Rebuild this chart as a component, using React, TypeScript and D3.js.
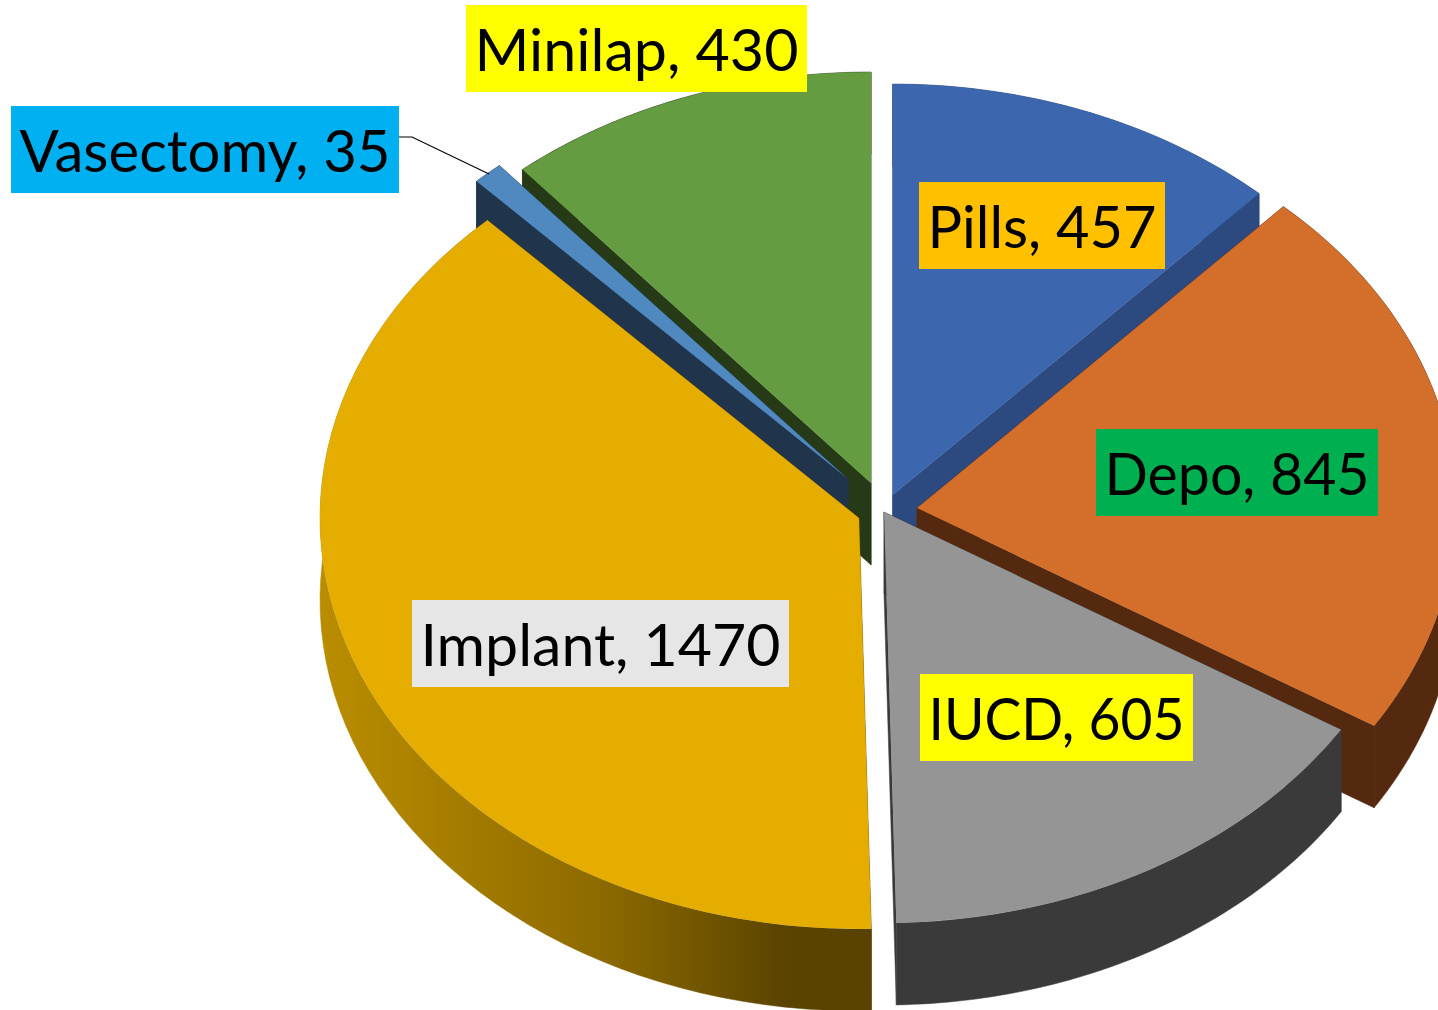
import React from "react";
import * as d3 from "d3";

const categories = ["Pills", "Depo", "IUCD", "Implant", "Vasectomy", "Minilap"];
const values = [457, 845, 605, 1470, 35, 430];
const topColors = ["#3C66AE", "#D36F2B", "#959595", "#E4AD00", "#4F89C0", "#659C41"];
const wallColors = ["#2C4A80", "#55290F", "#3A3A3A", "#5A4300", "#20354C", "#273A17"];
const labelFills = ["#FFC000", "#00B050", "#FFFF00", "#E7E6E6", "#00B0F0", "#FFFF00"];

// Layout only: where each exploded slice's point sits, and each label's box
const apexes = [[892.7, 495], [917, 508], [884, 512], [859, 518], [848, 479], [871, 483]];
const labelBoxes = [
  [919, 182, 246], [1096, 429, 282], [920, 674, 273], [412, 600, 377], [11, 106, 388], [466, 5, 341],
];
const paintOrder = [5, 0, 4, 1, 2, 3];

const W = 1438, H = 1010, RX = 539, RY = 411, DEPTH = 82, BOX_H = 87;

export default function App() {
  const arcs = d3.pie<number>().sort(null)(values);
  const line = d3.line();
  const circle = d3.arc<any>().innerRadius(0).outerRadius(RX);
  const pt = (i: number, a: number): [number, number] => [
    apexes[i][0] + RX * Math.sin(a),
    apexes[i][1] - RY * Math.cos(a),
  ];
  const outerWall = (i: number) => {
    const a0 = arcs[i].startAngle, a1 = arcs[i].endAngle;
    const n = 60;
    const top = d3.range(n + 1).map((k) => pt(i, a0 + ((a1 - a0) * k) / n));
    const bottom = top.slice().reverse().map(([x, y]) => [x, y + DEPTH] as [number, number]);
    return line([...top, ...bottom]) + "Z";
  };
  const radialWall = (i: number, a: number) => {
    const [ax, ay] = apexes[i];
    const [ox, oy] = pt(i, a);
    return line([[ax, ay], [ox, oy], [ox, oy + DEPTH], [ax, ay + DEPTH]]) + "Z";
  };

  return (
    <svg
      width={W}
      height={H}
      viewBox={`0 0 ${W} ${H}`}
      style={{ position: "absolute", left: 0, top: 0, display: "block", background: "#fff" }}
    >
      <defs>
        <linearGradient id="implantWall" gradientUnits="userSpaceOnUse" x1={321} x2={871} y1={0} y2={0}>
          <stop offset="0" stopColor="#BA8D00" />
          <stop offset="0.5" stopColor="#8E6B00" />
          <stop offset="0.85" stopColor="#5A4300" />
          <stop offset="1" stopColor="#5A4300" />
        </linearGradient>
      </defs>
      {paintOrder.map((i) => {
        const wallPaint = categories[i] === "Implant" ? "url(#implantWall)" : wallColors[i];
        return (
          <g key={categories[i]}>
            <path d={radialWall(i, arcs[i].startAngle)} fill={wallColors[i]} stroke={wallColors[i]} strokeWidth={0.5} />
            <path d={radialWall(i, arcs[i].endAngle)} fill={wallColors[i]} stroke={wallColors[i]} strokeWidth={0.5} />
            <path d={outerWall(i)} fill={wallPaint} stroke={wallPaint} strokeWidth={0.5} />
            <path
              d={circle(arcs[i]) as string}
              fill={topColors[i]}
              transform={`translate(${apexes[i][0]},${apexes[i][1]}) scale(1,${RY / RX})`}
            />
          </g>
        );
      })}
      <path d={line([[399, 137], [412, 137], [489, 174]]) as string} fill="none" stroke="#000" strokeWidth={1.2} />
      {categories.map((c, i) => {
        const [x, y, w] = labelBoxes[i];
        return (
          <g key={c}>
            <rect x={x} y={y} width={w} height={BOX_H} fill={labelFills[i]} />
            <text
              x={x + w / 2}
              y={y + 66}
              textAnchor="middle"
              fontFamily="Lato, 'Open Sans', sans-serif"
              fontSize={59}
              textLength={w - 17}
              lengthAdjust="spacingAndGlyphs"
              fill="#000"
            >
              {`${c}, ${values[i]}`}
            </text>
          </g>
        );
      })}
    </svg>
  );
}
